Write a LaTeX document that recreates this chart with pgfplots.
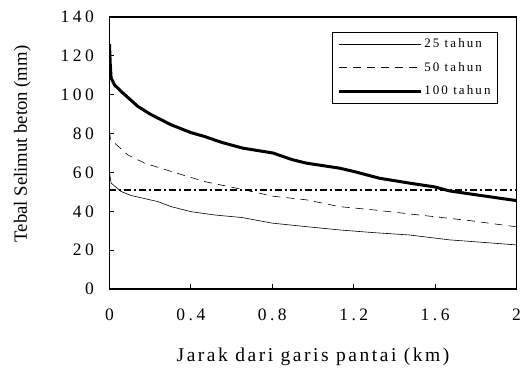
\documentclass[border=0pt]{standalone}
\usepackage{fontspec}
\setmainfont{Liberation Serif}
\newfontfamily\lsp[LetterSpace=20]{Liberation Serif}
\newfontfamily\lspx[LetterSpace=13]{Liberation Serif}
\newfontfamily\lspl[LetterSpace=16]{Liberation Serif}
\usepackage{pgfplots}
\pgfplotsset{compat=1.18}
\begin{document}
\begin{tikzpicture}
\begin{axis}[
  scale only axis, width=407bp, height=272bp,
  xmin=0, xmax=2, ymin=0, ymax=140,
  xtick={0,0.4,0.8,1.2,1.6,2}, xticklabels={0,0.4,0.8,1.2,1.6,2},
  ytick={0,20,40,60,80,100,120,140}, yticklabels={0,20,40,60,80,100,120,140},
  tick align=inside, xtick pos=bottom, ytick pos=left,
  major tick length=5bp,
  axis line style={line width=1.5bp},
  every tick/.style={black, line width=0.8bp},
  /pgf/number format/assume math mode=true,
  ticklabel style={font=\lsp\fontsize{17.5bp}{20bp}\selectfont},
  yticklabel style={xshift=-12bp},
  xticklabel style={yshift=-16bp},
  xlabel={Jarak dari garis pantai (km)},
  xlabel style={font=\lspx\fontsize{19.5bp}{22bp}\selectfont, at={(axis description cs:0.5,-0.2673)}, anchor=base},
  ylabel={Tebal Selimut beton (mm)},
  ylabel style={font=\fontsize{18.7bp}{22bp}\selectfont, at={(axis description cs:-0.2138,0.533)}, anchor=center, rotate=0},
  legend style={at={(axis description cs:0.5467,0.945)}, anchor=north west, draw=black, line width=0.6bp,
    font=\lspl\fontsize{13bp}{15bp}\selectfont, inner xsep=5bp, inner ysep=4.5bp, row sep=9bp,
    nodes={inner sep=2bp}, cells={anchor=west}},
  legend image code/.code={\draw[#1] (0bp,0bp) -- (82bp,0bp);},
]
\coordinate (O) at (rel axis cs:0,0);
\coordinate (T) at (rel axis cs:1,1);
\addplot[black, line width=0.6bp] coordinates {
(0,60) (0.008,54.5) (0.057,50.2) (0.107,48.1) (0.237,45) (0.303,42.4) (0.40,39.8)
(0.516,38.1) (0.65,36.8) (0.80,33.9) (0.967,32.1) (1.13,30.4) (1.3,29) (1.474,27.8)
(1.67,25.3) (2,22.7)};
\addlegendentry{25 tahun}
\addplot[black, line width=0.6bp, dash pattern=on 8bp off 6bp] coordinates {
(0,81) (0.005,77) (0.09,69) (0.172,64.8) (0.303,60.5) (0.467,55.3) (0.65,51.3)
(0.8,47.8) (0.967,45.9) (1.13,42.4) (1.3,40.7) (1.52,38.1) (1.77,35.2) (2,32)};
\addlegendentry{50 tahun}
\addplot[black, line width=3bp] coordinates {
(0,126) (0.004,115) (0.008,108.6) (0.025,105) (0.057,101.7) (0.139,94) (0.2,90)
(0.303,84.5) (0.4,80.5) (0.467,78.5) (0.55,75.5) (0.655,72.5) (0.803,70) (0.9,66.5)
(0.967,64.8) (1.13,62.2) (1.2,60.5) (1.327,57) (1.474,54.5) (1.6,52.5) (1.67,50.5)
(1.8,48.5) (2,45.5)};
\addlegendentry{100 tahun}
\addplot[forget plot, black, line width=1.8bp, dash pattern=on 7bp off 3bp on 2bp off 3bp] coordinates {(0,51) (2,51)};
\end{axis}
\pgfresetboundingbox
\path ([shift={(-109.5bp,-80bp)}]O) rectangle ([shift={(5.5bp,17bp)}]T);
\end{tikzpicture}
\end{document}
